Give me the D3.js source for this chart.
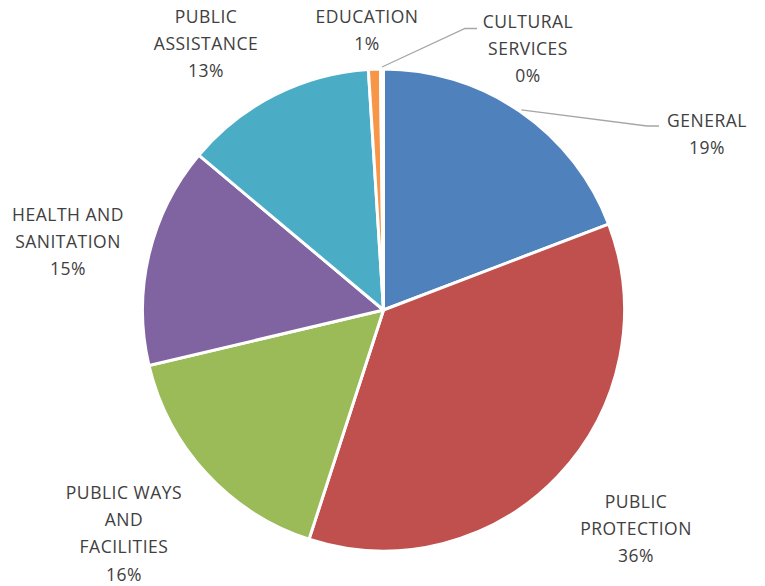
<!DOCTYPE html>
<html>
<head>
<meta charset="utf-8">
<script src="https://cdn.jsdelivr.net/npm/d3@7"></script>
<style>
  html, body { margin: 0; padding: 0; background: #fff; }
  svg { display: block; }
</style>
</head>
<body>
<svg id="chart" width="765" height="586"></svg>
<script>
// data (share of total, clockwise from 12 o'clock)
var categories = ["GENERAL", "PUBLIC PROTECTION", "PUBLIC WAYS AND FACILITIES",
    "HEALTH AND SANITATION", "PUBLIC ASSISTANCE", "EDUCATION", "CULTURAL SERVICES"]
var shares = [19.2, 35.8, 16.3, 14.8, 12.9, 0.8, 0.2]
var labelLines = [
    ["GENERAL"],
    ["PUBLIC", "PROTECTION"],
    ["PUBLIC WAYS", "AND", "FACILITIES"],
    ["HEALTH AND", "SANITATION"],
    ["PUBLIC", "ASSISTANCE"],
    ["EDUCATION"],
    ["CULTURAL", "SERVICES"]
]
var colors = ["#4f81bd", "#c0504d", "#9bbb59", "#8064a2", "#4bacc6", "#f79646", "#2c4d75"]

// layout
var cx = 383.5, cy = 310, radius = 241
var lineH = 27.2
// label anchor: centre x and baseline of the first line
var labelPos = [
    {x: 707, y: 127},
    {x: 636, y: 508},
    {x: 124, y: 499},
    {x: 68, y: 221},
    {x: 206, y: 23},
    {x: 367, y: 23},
    {x: 528, y: 28}
]
// leader lines: elbow points for the labels that have one
var leaders = {
    0: [[647, 126], [659, 126]],
    6: [[465, 28.5], [477, 28.5]]
}

var svg = d3.select("#chart")
var total = d3.sum(shares)
var pct = d3.format(".0%")

var pie = d3.pie().sort(null).value(function(d) { return d })
var arcs = pie(shares)
var arc = d3.arc().innerRadius(0).outerRadius(radius)

var g = svg.append("g").attr("transform", "translate(" + cx + "," + cy + ")")
g.selectAll("path.slice")
    .data(arcs)
    .enter()
    .append("path")
    .attr("class", "slice")
    .attr("d", arc)
    .attr("fill", function(d, i) { return colors[i] })
    .attr("stroke", "#fff")
    .attr("stroke-width", 3)
    .attr("stroke-linejoin", "round")

// leader lines
Object.keys(leaders).forEach(function(k) {
    var i = +k
    var a = (arcs[i].startAngle + arcs[i].endAngle) / 2
    var start = [cx + (radius + 2) * Math.sin(a), cy - (radius + 2) * Math.cos(a)]
    var pts = [start].concat(leaders[k])
    svg.append("path")
        .attr("d", d3.line()(pts))
        .attr("fill", "none")
        .attr("stroke", "#a6a6a6")
        .attr("stroke-width", 1.3)
})

// labels
var lbl = svg.selectAll("text.lbl")
    .data(categories)
    .enter()
    .append("text")
    .attr("class", "lbl")
    .attr("text-anchor", "middle")
    .style("font-family", "'Open Sans', sans-serif")
    .style("font-size", "17.5px")
    .style("letter-spacing", "0.5px")
    .attr("fill", "#404040")

lbl.each(function(d, i) {
    var el = d3.select(this)
    var lines = labelLines[i].concat([pct(shares[i] / total)])
    lines.forEach(function(t, j) {
        el.append("tspan")
            .attr("x", labelPos[i].x)
            .attr("y", labelPos[i].y + j * lineH)
            .text(t)
    })
})
</script>
</body>
</html>
